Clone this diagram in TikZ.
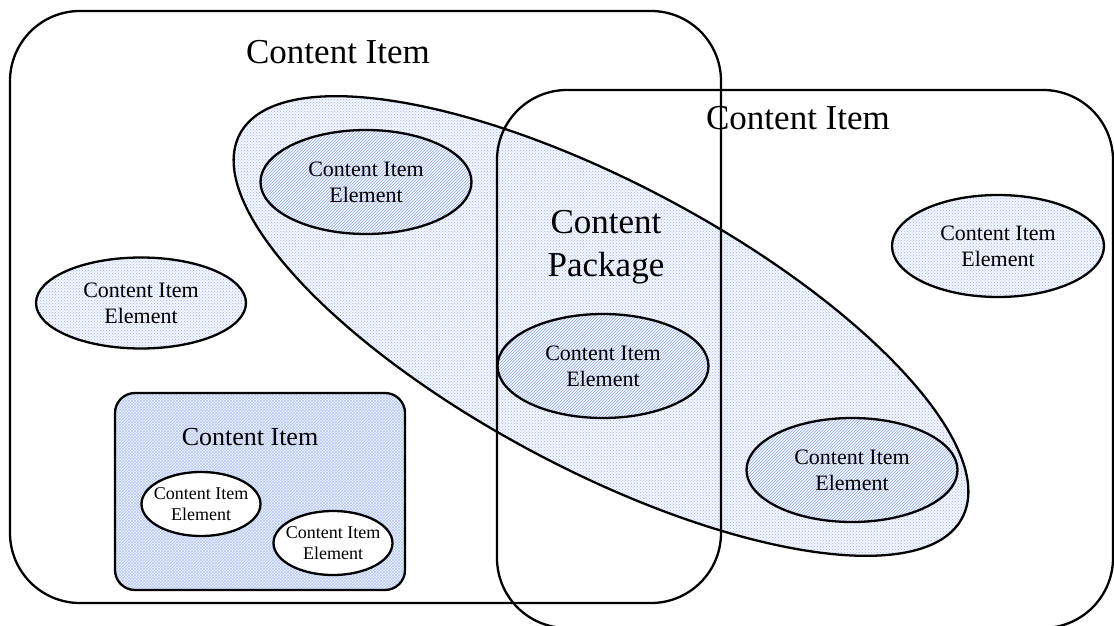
\documentclass[tikz,border=0pt]{standalone}
\usepackage{fontspec}
\setmainfont{Liberation Serif}
\usetikzlibrary{shapes.geometric, patterns}

\definecolor{patblue}{RGB}{90,130,230}

\begin{document}
\begin{tikzpicture}[
    x=1pt, y=-1pt,
    line width=2.3pt,
    item box/.style={
        draw=black,
        rounded corners=70pt
    },
    inner box/.style={
        draw=black,
        rounded corners=20pt,
        preaction={fill=patblue!9},
        pattern=crosshatch,
        pattern color=patblue!45
    },
    dotted fill/.style={
        preaction={fill=patblue!7},
        pattern=crosshatch dots,
        pattern color=patblue!60
    },
    hatched fill/.style={
        preaction={fill=patblue!6},
        pattern=north east lines,
        pattern color=patblue!70
    },
    element/.style={
        ellipse,
        draw=black,
        inner sep=0pt,
        minimum width=211pt,
        minimum height=104pt,
        align=center,
        font=\fontsize{22}{26}\selectfont
    },
    small element/.style={
        ellipse,
        draw=black,
        fill=white,
        inner sep=0pt,
        minimum width=119pt,
        minimum height=64pt
    },
    small text/.style={
        align=center,
        font=\fontsize{18}{21}\selectfont
    },
    title/.style={
        align=center,
        font=\fontsize{35}{43}\selectfont
    }
]

    \useasboundingbox (0,0) rectangle (1114,626);

    % --- Content Package ---
    \node[ellipse, draw=black, dotted fill, inner sep=0pt,
          minimum width=818pt, minimum height=286pt, rotate=-28]
        (package) at (601,326) {};
    \node[title] (package title) at (606,247) {Content\\Package};

    % --- Content Items ---
    \draw[item box] (10,11) rectangle (721,603);
    \node[title] (left title) at (338,52) {Content Item};

    \draw[item box] (497,90) rectangle (1113,628);
    \node[title] (right title) at (798,118) {Content Item};

    \draw[inner box] (115,393) rectangle (405,590);
    \node[font=\fontsize{26}{30}\selectfont] (inner title) at (250,437) {Content Item};

    % --- Content Item Elements ---
    \node[element, hatched fill] (elem a) at (366,182) {Content Item\\Element};
    \node[element, dotted fill, minimum width=210pt, minimum height=91pt]
        (elem b) at (141,303) {Content Item\\Element};
    \node[element, hatched fill] (elem c) at (603,366) {Content Item\\Element};
    \node[element, hatched fill] (elem d) at (852,470) {Content Item\\Element};
    \node[element, dotted fill, minimum width=212pt, minimum height=102pt]
        (elem e) at (998,246) {Content Item\\Element};

    \node[small element, label={[small text]center:Content Item\\Element}]
        (small a) at (201,504) {};
    \node[small element, label={[small text]center:Content Item\\Element}]
        (small b) at (333,543) {};

\end{tikzpicture}
\end{document}
